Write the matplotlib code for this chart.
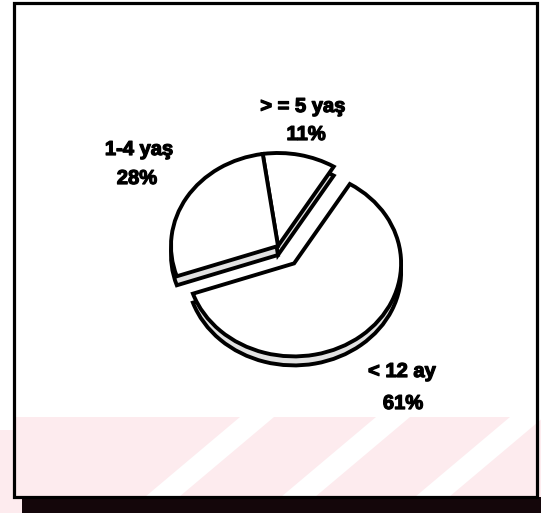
import matplotlib
matplotlib.use("Agg")
import matplotlib.pyplot as plt
import matplotlib.patheffects as pe
from matplotlib.patches import Rectangle, Polygon

# ---- data ----
labels = ["< 12 ay", "> = 5 yaş", "1-4 yaş"]
shares = [61, 11, 28]
pct_labels = [f"{v}%" for v in shares]

# ---- layout constants (pixels) ----
W, H = 541, 513
C = (278, 246)          # pie centre (px, y down)
RX, RY = 107, 93        # projected radii (3D tilt)
DEPTH = 9               # thickness of the pie (px)
LW = 2.8
FONT = dict(fontsize=14.5, fontweight="bold",
            family=["Liberation Sans", "DejaVu Sans"], color="black",
            path_effects=[pe.withStroke(linewidth=0.9, foreground="black")])
label_pos = {            # (x centre, baseline y) for name / percent lines
    "< 12 ay": ((402, 377), (403, 409)),
    "> = 5 yaş": ((303, 112), (306, 140)),
    "1-4 yaş": ((139, 155), (137, 184)),
}

fig = plt.figure(figsize=(W / 100, H / 100), dpi=100)
fig.patch.set_facecolor("white")

# background / decoration axes in pixel coordinates
bg = fig.add_axes([0, 0, 1, 1])
bg.set_xlim(0, W)
bg.set_ylim(H, 0)
bg.axis("off")

pink = "#fdebee"
bg.add_patch(Rectangle((0, 417), W, H - 417, fc=pink, ec="none", zorder=0))
bg.add_patch(Rectangle((0, 0), 13, 430, fc="white", ec="none", zorder=0))
for top_x in (240, 376, 510):
    bg.add_patch(Polygon([(top_x, 417), (top_x + 34, 417),
                          (top_x + 34 - 95, 497), (top_x - 95, 497)],
                         closed=True, fc="white", ec="none", zorder=0))
# frame + shadow bar
bg.add_patch(Rectangle((22, 497), W - 22, H - 497, fc="#14060a", ec="none", zorder=3))
bg.add_patch(Rectangle((13.5, 2.5), 523.5, 494.5, fill=False, ec="black", lw=2.3, zorder=3))

# pie axes: 1 data unit = RX px horizontally, RY px vertically
pa = fig.add_axes([0, 0, 1, 1])
pa.patch.set_visible(False)

explode = [0.24, 0, 0]
start = -161
# side (thickness) layer
pa.pie(shares, startangle=start, counterclock=True, explode=explode,
       center=(0, -DEPTH / RY), radius=1, colors=["#e2e2e2"] * 3,
       wedgeprops=dict(edgecolor="black", linewidth=LW))
# top layer
pa.pie(shares, startangle=start, counterclock=True, explode=explode,
       center=(0, 0), radius=1, colors=["white"] * 3,
       wedgeprops=dict(edgecolor="black", linewidth=LW))
pa.set_aspect("auto")
pa.set_xlim(-C[0] / RX, (W - C[0]) / RX)
pa.set_ylim(-(H - C[1]) / RY, C[1] / RY)
pa.axis("off")

# labels
for name, pct in zip(labels, pct_labels):
    (x1, y1), (x2, y2) = label_pos[name]
    bg.text(x1, y1, name, ha="center", va="baseline", zorder=5, **FONT)
    bg.text(x2, y2, pct, ha="center", va="baseline", zorder=5, **FONT)

fig.savefig("out.png", dpi=100, facecolor="white")
